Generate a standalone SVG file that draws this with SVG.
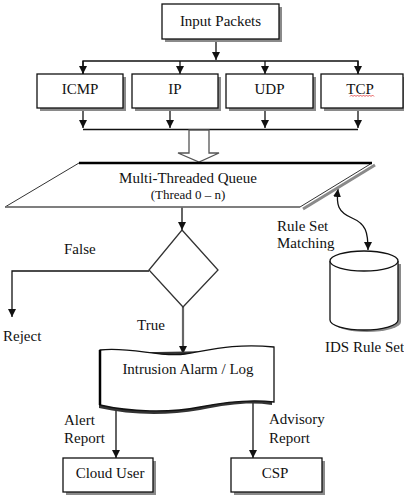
<svg xmlns="http://www.w3.org/2000/svg" width="404" height="500" viewBox="0 0 404 500">
<style>
text{font-family:"Liberation Serif",serif;font-size:15px;fill:#111}
.box{fill:#fff;stroke:#111;stroke-width:1.3}
.sh{fill:#8a8a8a}
.ln{fill:none;stroke:#111;stroke-width:1.3}
.c{text-anchor:middle}
</style>
<defs>
<marker id="ah" viewBox="0 0 10 10" refX="10" refY="5" markerWidth="8" markerHeight="8" markerUnits="userSpaceOnUse" orient="auto-start-reverse">
<path d="M0,0L10,5L0,10Z" fill="#111"/>
</marker>
</defs>
<g id="connectors">
<line class="ln" x1="216" y1="39" x2="216" y2="60" marker-end="url(#ah)"/>
<polyline class="ln" points="83,74 83,61 358,61 358,74"/>
<line class="ln" x1="83" y1="61" x2="83" y2="74" marker-end="url(#ah)"/>
<line class="ln" x1="180" y1="61" x2="180" y2="74" marker-end="url(#ah)"/>
<line class="ln" x1="265" y1="61" x2="265" y2="74" marker-end="url(#ah)"/>
<line class="ln" x1="358" y1="61" x2="358" y2="74" marker-end="url(#ah)"/>
<line class="ln" x1="83" y1="108" x2="83" y2="128" marker-end="url(#ah)"/>
<line class="ln" x1="170" y1="108" x2="170" y2="128" marker-end="url(#ah)"/>
<line class="ln" x1="265" y1="108" x2="265" y2="128" marker-end="url(#ah)"/>
<line class="ln" x1="358" y1="108" x2="358" y2="128" marker-end="url(#ah)"/>
<line class="ln" x1="83" y1="129.5" x2="358" y2="129.5"/>
<path d="M189,130 L209,130 L209,153 L219,153 L199,162 L178,153 L189,153 Z" fill="#fff" stroke="#555" stroke-width="1.3"/>
<line class="ln" x1="182" y1="207" x2="182" y2="230" marker-end="url(#ah)"/>
<polyline class="ln" points="149,271 12,271 12,317" marker-end="url(#ah)"/>
<line x1="183" y1="307" x2="183" y2="354" stroke="#666" stroke-width="2.2" marker-end="url(#ah)"/>
<line class="ln" x1="116" y1="411" x2="116" y2="458" marker-end="url(#ah)"/>
<line class="ln" x1="253" y1="402" x2="253" y2="458" marker-end="url(#ah)"/>
<path class="ln" d="M338,189 C336,205 338,212 352,218 C366,224 368,232 368,250" marker-start="url(#ah)" marker-end="url(#ah)"/>
</g>
<g id="input-packets">
<rect class="sh" x="165" y="7" width="117" height="35"/>
<rect class="box" x="162" y="4" width="117" height="35"/>
<text class="c" x="220.5" y="26">Input Packets</text>
</g>
<g id="icmp">
<rect class="sh" x="40" y="77" width="86" height="34"/>
<rect class="box" x="37" y="74" width="86" height="34"/>
<text class="c" x="80" y="94">ICMP</text>
</g>
<g id="ip">
<rect class="sh" x="135" y="77" width="86" height="34"/>
<rect class="box" x="132" y="74" width="86" height="34"/>
<text class="c" x="175" y="94">IP</text>
</g>
<g id="udp">
<rect class="sh" x="229" y="77" width="87" height="34"/>
<rect class="box" x="226" y="74" width="87" height="34"/>
<text class="c" x="269.5" y="94">UDP</text>
</g>
<g id="tcp">
<rect class="sh" x="324" y="77" width="84" height="34"/>
<rect class="box" x="321" y="74" width="82" height="34"/>
<text class="c" x="360" y="94">TCP</text>
<path d="M350,96.5 l1.5,-1.5 l1.5,1.5 l1.5,-1.5 l1.5,1.5 l1.5,-1.5 l1.5,1.5 l1.5,-1.5 l1.5,1.5 l1.5,-1.5 l1.5,1.5 l1.5,-1.5 l1.5,1.5 l1.5,-1.5 l1.5,1.5 l1.5,-1.5 l1.5,1.5" fill="none" stroke="#d33" stroke-width="0.8"/>
</g>
<g id="queue">
<line x1="375" y1="165" x2="303" y2="209" stroke="#8a8a8a" stroke-width="3"/>
<polygon points="79,163 372,163 300,207 5,207" fill="#fff" stroke="#333" stroke-width="1"/>
<line x1="79" y1="163" x2="372" y2="163" stroke="#000" stroke-width="2.5"/>
<line x1="5" y1="207" x2="300" y2="207" stroke="#777" stroke-width="1.5"/>
<text class="c" x="188" y="183">Multi-Threaded Queue</text>
<text class="c" x="188" y="199" style="font-size:13px">(Thread 0 – n)</text>
</g>
<g id="decision">
<polygon points="182,230 218,270 183,307 149,270" fill="#fff" stroke="#333" stroke-width="1.3"/>
</g>
<g id="rule-db">
<path d="M333,264 L333,322 A34,10 0 0 0 401,322 L401,264" fill="#8a8a8a"/>
<path d="M330,261 L330,320 A34,10 0 0 0 398,320 L398,261" fill="#fff" stroke="#111" stroke-width="1.3"/>
<ellipse cx="364" cy="261" rx="34" ry="10" fill="#fff" stroke="#111" stroke-width="1.3"/>
<text x="325" y="352">IDS Rule Set</text>
</g>
<g id="alarm-log">
<path d="M99,353 L99,408 C130,415 165,416 200,410 C230,404 250,402 272,405 L272,350 Z" fill="#333"/>
<path d="M100,350 C130,346 160,358 185,354 C210,350 235,343 274,347 L274,402 C250,399 225,402 200,407 C170,413 130,412 100,405 Z" fill="#fff" stroke="#111" stroke-width="1.3"/>
<line x1="100" y1="350" x2="100" y2="405" stroke="#000" stroke-width="2.5"/>
<text class="c" x="188" y="374">Intrusion Alarm / Log</text>
</g>
<g id="cloud-user">
<rect class="sh" x="66" y="461" width="90" height="34"/>
<rect class="box" x="63" y="458" width="90" height="34"/>
<text class="c" x="110" y="478">Cloud User</text>
</g>
<g id="csp">
<rect class="sh" x="234" y="461" width="91" height="34"/>
<rect class="box" x="231" y="458" width="91" height="34"/>
<text class="c" x="275" y="478">CSP</text>
</g>
<g id="labels">
<text x="64" y="254">False</text>
<text x="3" y="341">Reject</text>
<text x="137" y="330">True</text>
<text x="277" y="231">Rule Set</text>
<text x="277" y="248">Matching</text>
<text x="64" y="425">Alert</text>
<text x="64" y="443">Report</text>
<text x="269" y="424">Advisory</text>
<text x="269" y="443">Report</text>
</g>
</svg>
